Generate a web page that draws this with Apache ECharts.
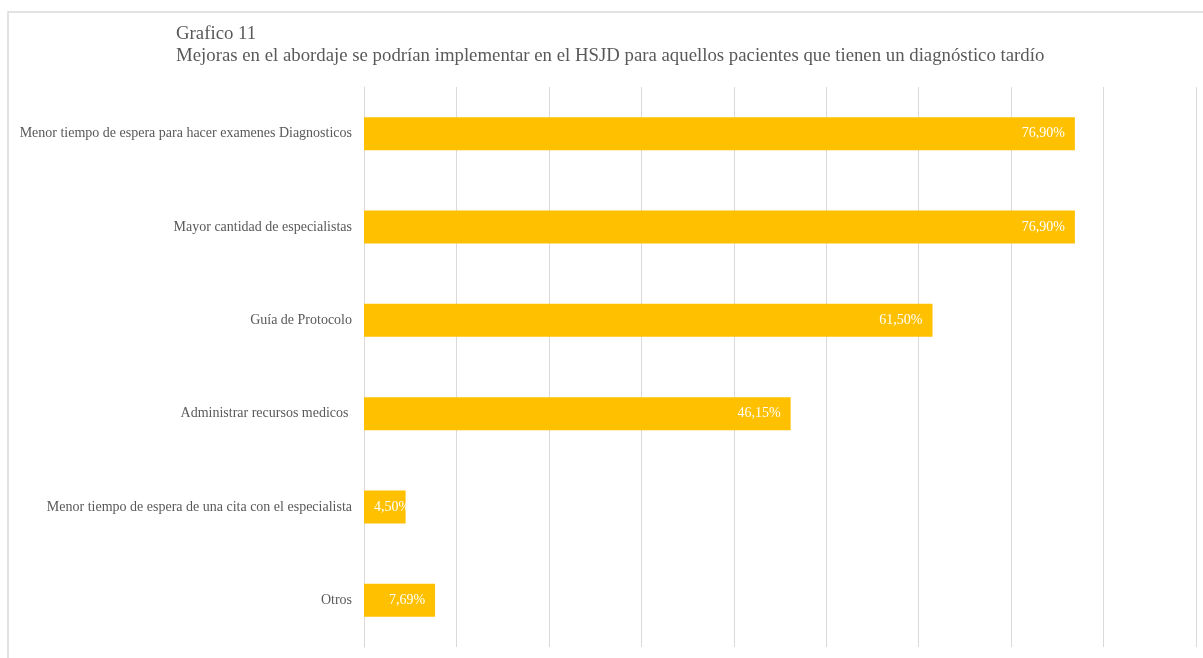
<!DOCTYPE html>
<html>
<head>
<meta charset="utf-8">
<script src="https://cdn.jsdelivr.net/npm/echarts@6/dist/echarts.min.js"></script>
<style>
html,body{margin:0;padding:0;background:#fff;}
#chart{width:1203px;height:658px;}
</style>
</head>
<body>
<div id="chart"></div>
<script>
const categories = [
  "Menor tiempo de espera para hacer examenes Diagnosticos",
  "Mayor cantidad de especialistas",
  "Guía de Protocolo",
  "Administrar recursos medicos ",
  "Menor tiempo de espera de una cita con el especialista",
  "Otros"
];
const values = [76.90, 76.90, 61.50, 46.15, 4.50, 7.69];
const titleLines = ["Grafico 11", "Mejoras en el abordaje se podrían implementar en el HSJD para aquellos pacientes que tienen un diagnóstico tardío"];

const font = "'Liberation Serif', 'Times New Roman', serif";
const chart = echarts.init(document.getElementById('chart'));
chart.setOption({
  animation: false,
  backgroundColor: '#fff',
  graphic: [{
    type: 'rect',
    shape: {x: 8, y: 12, width: 1300, height: 700},
    style: {fill: 'none', stroke: '#d9d9d9', lineWidth: 1.5},
    silent: true, z: -1
  }],
  title: {
    text: titleLines.join('\n'),
    left: 171, top: 18,
    textStyle: {fontFamily: font, fontSize: 18.8, fontWeight: 'normal', color: '#595959', lineHeight: 22}
  },
  grid: {left: 364, right: 7, top: 87, bottom: 11, containLabel: false},
  xAxis: {
    type: 'value', min: 0, max: 90, interval: 10,
    axisLabel: {show: false}, axisLine: {show: false}, axisTick: {show: false},
    splitLine: {lineStyle: {color: '#d9d9d9', width: 1}}
  },
  yAxis: {
    type: 'category', inverse: true, data: categories,
    axisLine: {show: true, lineStyle: {color: '#d9d9d9'}},
    axisTick: {show: false},
    axisLabel: {fontFamily: font, fontSize: 14, color: '#595959', margin: 12}
  },
  series: [{
    type: 'bar',
    data: values.map((v, i) => i === 4 ? {value: v, label: {position: 'insideLeft', distance: 10}} : v),
    barWidth: 33,
    itemStyle: {color: '#FFC000'},
    label: {
      show: true, position: 'insideRight', distance: 10,
      color: '#fff', fontFamily: font, fontSize: 14,
      formatter: p => p.value.toFixed(2).replace('.', ',') + '%'
    }
  }]
});
</script>
</body>
</html>
